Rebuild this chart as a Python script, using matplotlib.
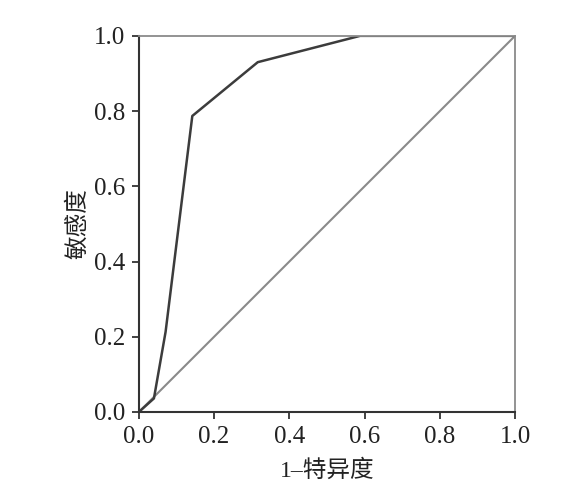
import numpy as np
import matplotlib
matplotlib.use("Agg")
import matplotlib.pyplot as plt

# ROC curve points
fpr = [0.0, 0.04, 0.071, 0.142, 0.316, 0.588, 1.0]
tpr = [0.0, 0.036, 0.213, 0.787, 0.930, 1.0, 1.0]
ref_line = [0.0, 1.0]
ticks = [0.0, 0.2, 0.4, 0.6, 0.8, 1.0]
tick_labels = ["0.0", "0.2", "0.4", "0.6", "0.8", "1.0"]

plt.rcParams['font.family'] = ['Liberation Serif', 'Noto Sans CJK SC']

fig = plt.figure(figsize=(5.86, 4.91), dpi=100)
ax = fig.add_axes([0.237, 0.161, 0.642, 0.766])

ax.plot(ref_line, ref_line, color='#8a8a8a', linewidth=1.5)
ax.plot(fpr, tpr, color='#3c3c3c', linewidth=1.8)

ax.set_xlim(0, 1)
ax.set_ylim(0, 1)
ax.set_xticks(ticks)
ax.set_xticklabels(tick_labels)
ax.set_yticks(ticks)
ax.set_yticklabels(tick_labels)

for side in ['left', 'bottom']:
    ax.spines[side].set_color('#333333')
    ax.spines[side].set_linewidth(1.5)
for side in ['top', 'right']:
    ax.spines[side].set_color('#8a8a8a')
    ax.spines[side].set_linewidth(1.3)

ax.tick_params(direction='out', length=5, width=1.3, color='#333333',
               labelsize=18, labelcolor='#222222', pad=5)

ax.set_xlabel('1–特异度', fontsize=17, color='#222222',
              family=['Liberation Serif', 'Noto Sans CJK SC'], labelpad=8)
ax.set_ylabel('敏感度', fontsize=17, color='#222222',
              family=['Noto Sans CJK SC'], labelpad=3)

fig.savefig('out.png', dpi=100)
